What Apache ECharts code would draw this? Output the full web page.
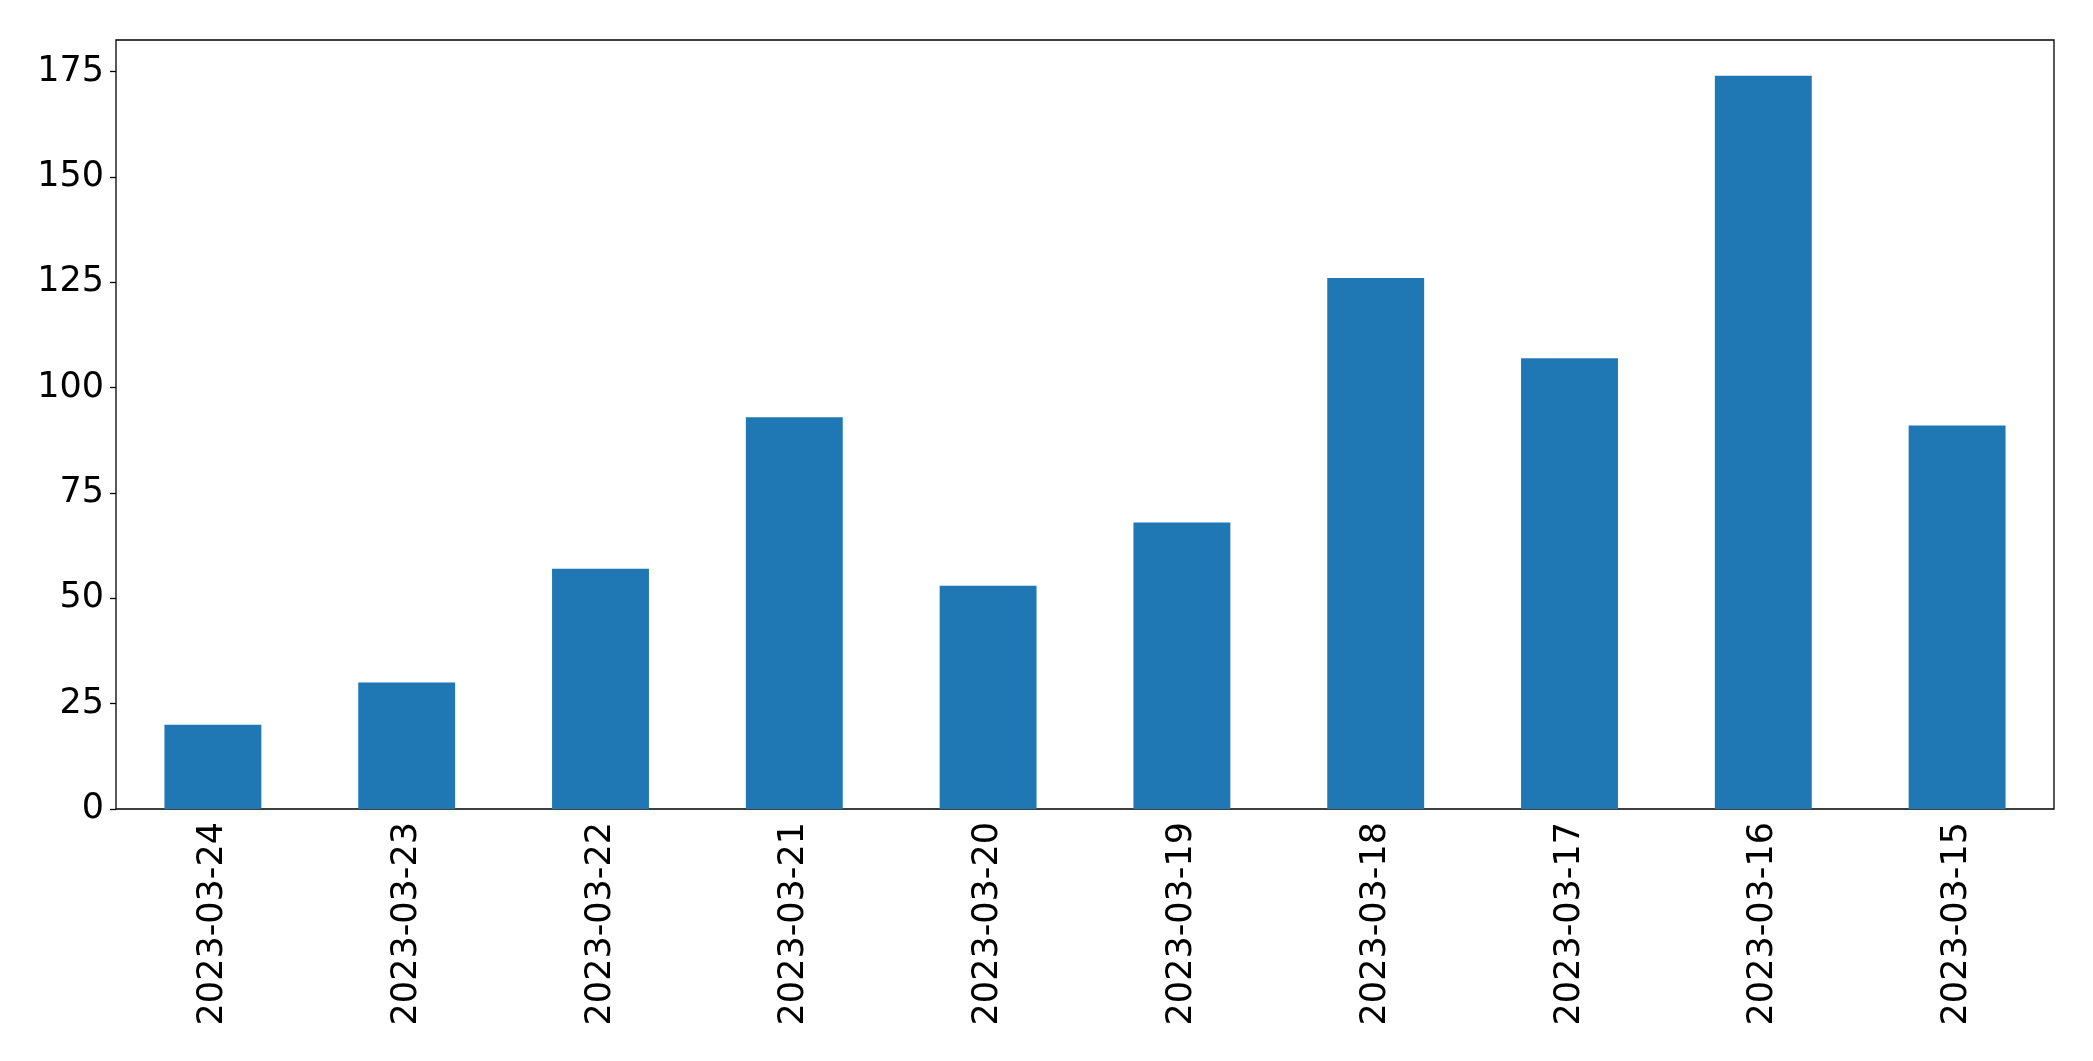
<!DOCTYPE html>
<html>
<head>
<meta charset="utf-8">
<script src="https://cdn.jsdelivr.net/npm/echarts@6/dist/echarts.min.js"></script>
<style>
  html, body { margin: 0; padding: 0; background: #fff; }
  #chart { width: 2093px; height: 1061px; }
</style>
</head>
<body>
<div id="chart"></div>
<script>
// data
var dates = ['2023-03-24', '2023-03-23', '2023-03-22', '2023-03-21', '2023-03-20',
             '2023-03-19', '2023-03-18', '2023-03-17', '2023-03-16', '2023-03-15'];
var counts = [20, 30, 57, 93, 53, 68, 126, 107, 174, 91];
var yTicks = [0, 25, 50, 75, 100, 125, 150, 175];

var myChart = echarts.init(document.getElementById('chart'));

var option = {
    animation: false,
    textStyle: { fontFamily: 'DejaVu Sans' },
    grid: {
        left: 116, right: 39, top: 40, bottom: 252,
        show: true,
        borderColor: '#000',
        borderWidth: 1.3
    },
    xAxis: {
        type: 'category',
        data: dates,
        axisLine: { show: false },
        axisTick: {
            alignWithLabel: true,
            length: 6,
            lineStyle: { color: '#000', width: 1.3 }
        },
        axisLabel: {
            rotate: 90,
            margin: 13,
            color: '#000',
            fontSize: 35,
            fontFamily: 'DejaVu Sans'
        },
        splitLine: { show: false }
    },
    yAxis: {
        type: 'value',
        min: 0,
        max: 182.5,
        interval: 25,
        axisLine: { show: false },
        axisTick: {
            show: true,
            length: 6,
            customValues: yTicks,
            lineStyle: { color: '#000', width: 1.3 }
        },
        axisLabel: {
            margin: 12,
            color: '#000',
            fontSize: 35,
            fontFamily: 'DejaVu Sans',
            customValues: yTicks
        },
        splitLine: { show: false }
    },
    series: [{
        type: 'bar',
        data: counts,
        barWidth: '50%',
        itemStyle: { color: '#1f77b4' }
    }]
};

myChart.setOption(option);
</script>
</body>
</html>
